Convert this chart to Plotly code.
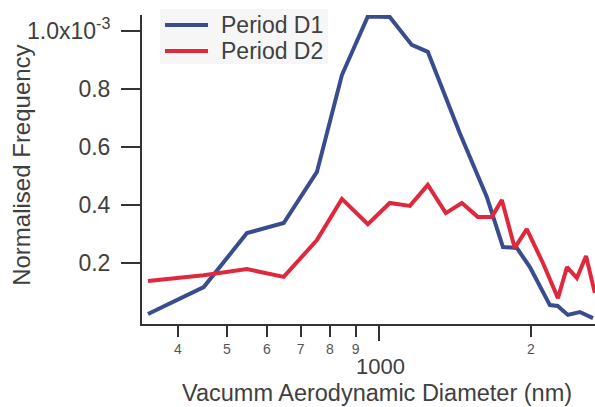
import math
import plotly.graph_objects as go

# Data (diameter in nm, normalised frequency)
d1_x = [349, 450, 548, 648, 754, 845, 951, 1051, 1162, 1250, 1446, 1636, 1761, 1876, 1991, 2181, 2260, 2367, 2500, 2655]
d1_y = [0.024, 0.117, 0.303, 0.338, 0.514, 0.848, 1.05, 1.048, 0.952, 0.928, 0.648, 0.428, 0.255, 0.252, 0.186, 0.055, 0.052, 0.021, 0.031, 0.010]
d2_x = [349, 450, 548, 648, 754, 845, 951, 1051, 1152, 1250, 1357, 1460, 1570, 1674, 1752, 1858, 1963, 2113, 2263, 2358, 2467, 2572, 2677]
d2_y = [0.138, 0.158, 0.179, 0.152, 0.279, 0.421, 0.334, 0.407, 0.397, 0.469, 0.372, 0.407, 0.359, 0.359, 0.417, 0.252, 0.317, 0.200, 0.079, 0.186, 0.148, 0.224, 0.097]
scale = 1e-3
series_names = ["Period D1", "Period D2"]

minor_ticks = [400, 500, 600, 700, 800, 900, 2000]
minor_labels = ["4", "5", "6", "7", "8", "9", "2"]
major_ticks = [1000]
major_labels = ["1000"]
y_ticks = [0.2, 0.4, 0.6, 0.8, 1.0]
y_labels = ["0.2", "0.4", "0.6", "0.8", "1.0x10<sup>-3</sup>"]

FONT = "Liberation Sans, Arial, sans-serif"
BLUE = "#394c8e"
RED = "#e0283c"
TXT = "#404040"
colors = [BLUE, RED]

fig = go.Figure()
fig.add_trace(go.Scatter(x=d1_x, y=[v * scale for v in d1_y], mode="lines", name=series_names[0],
                         line=dict(color=BLUE, width=4), showlegend=False))
fig.add_trace(go.Scatter(x=d2_x, y=[v * scale for v in d2_y], mode="lines", name=series_names[1],
                         line=dict(color=RED, width=4), showlegend=False))

xr = [2.531, 3.428]
fig.update_layout(
    width=595, height=407,
    margin=dict(l=142, r=0, t=15, b=83),
    paper_bgcolor="white", plot_bgcolor="white",
    font=dict(family=FONT, color=TXT, size=21),
    showlegend=False,
    xaxis=dict(type="log", range=xr, tickmode="array", tickvals=minor_ticks, ticktext=minor_labels,
               ticks="outside", ticklen=11, tickwidth=2, tickcolor="#333",
               showline=True, linecolor="#333", linewidth=2, showgrid=False, zeroline=False,
               tickfont=dict(size=14, color="#555")),
    xaxis2=dict(type="log", range=xr, overlaying="x", anchor="y", side="bottom",
                tickmode="array", tickvals=major_ticks, ticktext=major_labels,
                ticks="outside", ticklen=16, tickwidth=2, tickcolor="#333",
                showticklabels=False, showline=False, showgrid=False, zeroline=False),
    yaxis=dict(range=[-0.0103 * scale, 1.055 * scale], tickmode="array",
               tickvals=[v * scale for v in y_ticks], ticktext=y_labels,
               ticks="outside", ticklen=19, tickwidth=2, tickcolor="#333",
               ticklabelstandoff=6,
               showline=True, linecolor="#333", linewidth=2, showgrid=False, zeroline=False,
               tickfont=dict(size=23, color=TXT)),
)
# invisible trace to activate xaxis2
fig.add_trace(go.Scatter(x=major_ticks, y=[None], xaxis="x2", showlegend=False, hoverinfo="skip"))

# "1000" major label
fig.add_annotation(x=math.log10(major_ticks[0]), y=-0.138, xref="x", yref="paper", text=major_labels[0],
                   showarrow=False, font=dict(size=22, color=TXT), yanchor="middle", xanchor="center",
                   xshift=2)
# axis titles
fig.add_annotation(x=0.519, y=-0.222, xref="paper", yref="paper",
                   text="Vacumm Aerodynamic Diameter (nm)", showarrow=False,
                   font=dict(size=23.5, color=TXT), yanchor="middle", xanchor="center")
fig.add_annotation(x=-0.265, y=0.515, xref="paper", yref="paper", textangle=-90,
                   text="Normalised Frequency", showarrow=False,
                   font=dict(size=24, color=TXT), yanchor="middle", xanchor="center")

# manual legend (paper coords relative to plot area: px -> fraction)
def px_x(p):
    return (p - 142) / 453.0

def px_y(p):
    return (324 - p) / 309.0

fig.add_shape(type="rect", xref="paper", yref="paper", x0=px_x(160), x1=px_x(328),
              y0=px_y(64), y1=px_y(9), fillcolor="#f6f6f6", line=dict(width=0), layer="below")
for i, (name, col) in enumerate(zip(series_names, colors)):
    yc = 25 + i * 26
    fig.add_shape(type="line", xref="paper", yref="paper", x0=px_x(165), x1=px_x(208),
                  y0=px_y(yc), y1=px_y(yc), line=dict(color=col, width=4))
    fig.add_annotation(x=px_x(219), y=px_y(yc), xref="paper", yref="paper", text=name,
                       showarrow=False, font=dict(size=23, color=TXT), xanchor="left", yanchor="middle")

fig.write_html("out.html")
